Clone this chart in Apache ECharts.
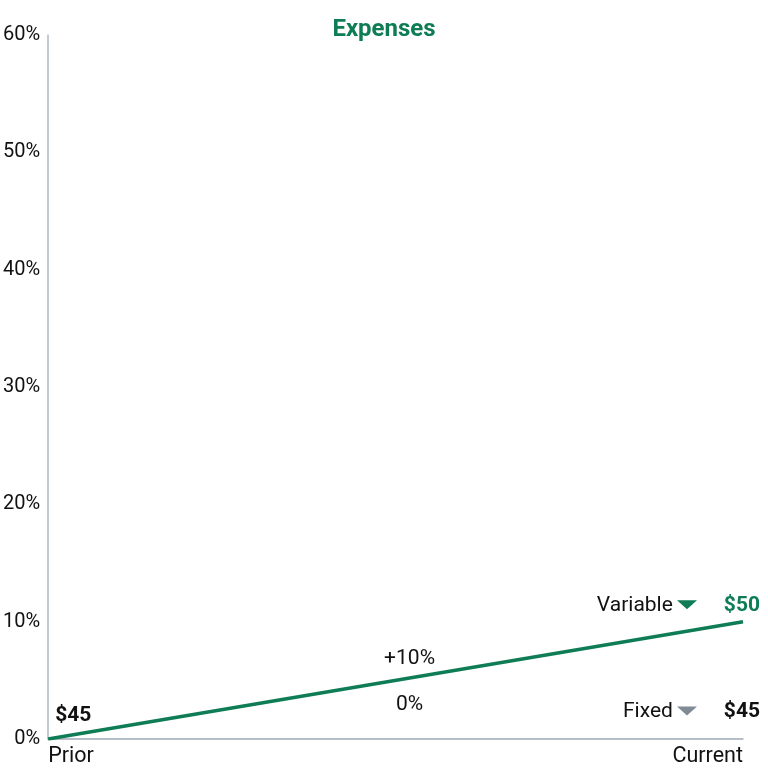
<!DOCTYPE html>
<html>
<head>
<meta charset="utf-8">
<script src="https://cdn.jsdelivr.net/npm/echarts@6/dist/echarts.min.js"></script>
<style>
  html, body { margin: 0; padding: 0; background: #fff; }
  #chart { width: 768px; height: 768px; }
</style>
</head>
<body>
<div id="chart"></div>
<script>
// data
const periods = [0, 1];
const periodLabels = ['Prior', 'Current'];
const variablePct = [0, 10];
const fixedPct = [0, 0];
const priorAmount = '$45';
const variableAmount = '$50';
const fixedAmount = '$45';
const variableChange = '+10%';
const fixedChange = '0%';
const yTicks = [0, 10, 20, 30, 40, 50, 60];

const green = '#0e7c55';
const gray = '#808b96';
const axisGray = '#b0b8c2';
const font = 'Roboto';
const last = periods.length - 1;
const midX = (periods[0] + periods[last]) / 2;
const midY = (variablePct[0] + variablePct[last]) / 2;

const chart = echarts.init(document.getElementById('chart'));
chart.setOption({
  animation: false,
  textStyle: { fontFamily: font },
  title: {
    text: 'Expenses',
    left: 'center',
    top: 13,
    textStyle: { color: green, fontSize: 24, fontWeight: 'bold', fontFamily: font }
  },
  grid: { left: 48, right: 25, top: 35, bottom: 28 },
  xAxis: {
    type: 'value',
    min: periods[0],
    max: periods[last],
    interval: 1,
    splitLine: { show: false },
    axisTick: { show: false },
    axisLine: { lineStyle: { color: axisGray, width: 1.5 } },
    axisLabel: {
      color: '#111',
      fontSize: 21.5,
      margin: 7,
      alignMinLabel: 'left',
      alignMaxLabel: 'right',
      formatter: v => periodLabels[periods.indexOf(v)] || ''
    }
  },
  yAxis: {
    type: 'value',
    min: yTicks[0],
    max: yTicks[yTicks.length - 1],
    interval: 10,
    splitLine: { show: false },
    axisTick: { show: false },
    axisLine: { show: true, lineStyle: { color: axisGray, width: 1.5 } },
    axisLabel: { color: '#111', fontSize: 20, margin: 8, formatter: '{value}%' }
  },
  series: [
    {
      name: 'Fixed',
      type: 'line',
      data: periods.map((p, i) => [p, fixedPct[i]]),
      symbol: 'circle',
      symbolSize: 0,
      lineStyle: { color: axisGray, width: 1.5 },
      z: 1,
      label: {
        show: true,
        position: [17, -27],
        align: 'right',
        verticalAlign: 'middle',
        formatter: p => p.dataIndex === last ? '{n|Fixed}{g|}{v|' + fixedAmount + '}' : '',
        rich: {
          n: { fontSize: 21, color: '#111', fontFamily: font },
          g: { width: 51 },
          v: { fontSize: 21, color: '#111', fontWeight: 'bold', fontFamily: font }
        }
      }
    },
    {
      name: 'Variable',
      type: 'line',
      symbol: 'circle',
      symbolSize: 0,
      lineStyle: { color: green, width: 3.5 },
      itemStyle: { color: green },
      z: 3,
      label: {
        show: true,
        verticalAlign: 'middle',
        formatter: p => p.dataIndex === 0 ? '{s|' + priorAmount + '}'
          : '{n|Variable}{g|}{v|' + variableAmount + '}',
        rich: {
          s: { fontSize: 21, color: '#111', fontWeight: 'bold', fontFamily: font },
          n: { fontSize: 21, color: '#111', fontFamily: font },
          g: { width: 51 },
          v: { fontSize: 21, color: green, fontWeight: 'bold', fontFamily: font }
        }
      },
      data: [
        { value: [periods[0], variablePct[0]], label: { position: [7, -23], align: 'left' } },
        { value: [periods[last], variablePct[last]], label: { position: [17, -16], align: 'right' } }
      ]
    },
    {
      name: 'Markers',
      type: 'scatter',
      symbol: 'triangle',
      symbolRotate: 180,
      symbolSize: [20, 9],
      itemStyle: { opacity: 1 },
      z: 4,
      data: [
        { value: [periods[last], variablePct[last]], symbolOffset: [-56, -17], itemStyle: { color: green, opacity: 1 } },
        { value: [periods[last], fixedPct[last]], symbolOffset: [-56, -28], itemStyle: { color: gray, opacity: 1 } }
      ]
    },
    {
      name: 'Change',
      type: 'scatter',
      symbolSize: 0,
      itemStyle: { opacity: 1 },
      data: [
        { value: [midX, midY], label: { position: [14, -22], formatter: variableChange } },
        { value: [midX, midY], label: { position: [14, 24], formatter: fixedChange } }
      ],
      label: { show: true, fontSize: 21, color: '#111', align: 'center', verticalAlign: 'middle' },
      z: 4
    }
  ]
});
</script>
</body>
</html>
